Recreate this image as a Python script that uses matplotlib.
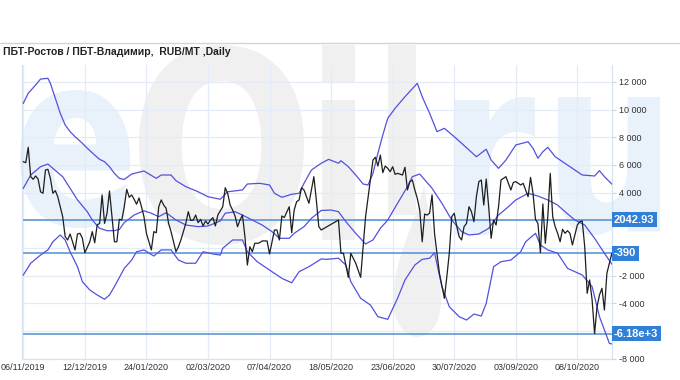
import matplotlib.pyplot as plt
from matplotlib.ticker import FuncFormatter
from matplotlib.textpath import TextPath
from matplotlib.font_manager import FontProperties
from matplotlib.patches import PathPatch
from matplotlib.path import Path
from matplotlib.transforms import Affine2D, blended_transform_factory
from matplotlib.lines import Line2D

plt.rcParams['axes.unicode_minus'] = False
plt.rcParams['font.family'] = ['Liberation Sans', 'DejaVu Sans']

# spread ПБТ-Ростов / ПБТ-Владимир, trading-day index
spread_day = [0, 1, 2, 3, 4, 5, 6, 7, 8, 9, 10, 11, 12, 13, 14, 16, 17, 18, 19, 20,
              21, 22, 23, 24, 25, 27, 28, 29, 30, 31, 32, 33, 34, 35, 36, 37, 38, 39, 40, 41,
              42, 43, 44, 45, 46, 47, 48, 49, 50, 52, 53, 54, 55, 56, 57, 58, 59, 60, 62, 63,
              64, 66, 67, 68, 69, 70, 71, 72, 73, 74, 75, 76, 77, 78, 79, 81, 82, 83, 84, 85,
              86, 87, 88, 89, 90, 91, 92, 93, 94, 95, 96, 97, 99, 100, 101, 102, 103, 104, 105, 106,
              108, 109, 110, 111, 112, 113, 114, 116, 118, 119, 120, 121, 128, 129, 130, 132, 133, 135, 137, 139,
              142, 143, 144, 145, 146, 147, 148, 149, 150, 151, 152, 154, 155, 156, 157, 158, 159, 160, 161, 162,
              163, 164, 165, 166, 167, 169, 171, 172, 173, 174, 175, 176, 177, 178, 179, 180, 181, 182, 183, 184,
              185, 186, 187, 188, 189, 190, 191, 192, 193, 194, 195, 196, 197, 198, 199, 200, 201, 202, 203, 205,
              206, 207, 208, 209, 210, 211, 212, 213, 214, 215, 216, 217, 218, 219, 220, 221, 222, 223, 225, 226,
              227, 228, 229, 230, 231, 232, 233, 234, 235, 236, 237, 238, 239]
spread = [6230, 6160, 7270, 5150, 4960, 5200, 4980, 4060, 3950, 5630, 5680, 5030, 3950, 4140, 3700, 2260, 820, 580, 1010, 450,
          -140, 1010, 1060, 700, -340, 450, 1180, 380, 1660, 1780, 3830, 1780, 2510, 4120, 2260, 450, 450, 2070, 2020, 2980,
          4240, 3660, 3830, 3520, 3160, 3610, 2980, 2260, 1060, -140, 1180, 1100, 2980, 3470, 3100, 2870, 1780, 1180, -270, 90,
          580, 1780, 2620, 1990, 2020, 2380, 1830, 2070, 1590, 1950, 1730, 2020, 2190, 1590, 2380, 2980, 4350, 3950, 3100, 2740,
          2310, 1540, 2020, 2380, 820, -1230, 90, -270, 340, 340, 380, 510, 510, -430, 450, 1300, 1300, 580, 2310, 2200,
          2980, 1100, 2740, 3340, 3470, 4350, 4190, 3230, 5150, 3470, 1540, 1300, 2020, -380, -380, -2120, -380, -1100, -2120, 2260,
          6350, 6550, 5920, 6710, 5440, 5920, 5750, 5510, 5870, 5320, 5390, 5270, 5830, 4190, 4790, 4910, 4190, 3590, 2740, 450,
          2450, 2380, 2510, 3830, 1060, -1830, -3630, -2070, -380, 2260, 2510, 1590, 820, 580, 1540, 1780, 2980, 2620, 1900, 3700,
          4790, 4910, 3100, 4980, 2980, 700, 2020, 1660, 2980, 4910, 5030, 5150, 4670, 4190, 4730, 4790, 4670, 4550, 4670, 3700,
          5100, 3950, 2070, 1780, -340, 3180, 340, 2260, 5390, 2260, 1540, 1060, 450, 1350, 1060, 1250, 1060, 220, 1660, 1900,
          1950, 90, -3270, -2310, -3750, -6180, -4240, -3390, -2910, -4480, -1830, -1100, -390]

upper_day = [0, 2, 5, 7, 10, 11, 13, 15, 17, 19, 21, 24, 26, 29, 31, 33, 35, 37, 39, 41,
             44, 49, 54, 56, 60, 62, 66, 71, 75, 80, 83, 89, 91, 96, 100, 102, 105, 109, 112, 114,
             117, 121, 124, 128, 129, 132, 135, 138, 140, 142, 144, 146, 148, 151, 155, 160, 162, 165, 168, 171,
             175, 181, 184, 188, 190, 193, 196, 200, 205, 207, 209, 211, 213, 216, 222, 227, 232, 234, 236, 239]
upper = [10450, 11170, 11770, 12200, 12250, 11890, 10810, 9730, 8880, 8400, 8040, 7560, 7200, 6710, 6400, 6230, 5870, 5390, 5030, 4950,
         5340, 5560, 5030, 5270, 5270, 4860, 4430, 4060, 3700, 3520, 4060, 4190, 4620, 4670, 4550, 3950, 3660, 3880, 3950, 4670,
         5630, 6120, 6400, 6120, 6300, 5870, 5270, 4620, 4550, 5390, 6840, 8160, 9360, 10090, 10920, 11890, 10920, 9730, 8400, 8640,
         8040, 7080, 6590, 7130, 6350, 5750, 6350, 7440, 7670, 7200, 6480, 6950, 7270, 6590, 5870, 5270, 5200, 5580, 5150, 4620]

middle_day = [0, 3, 7, 10, 12, 16, 19, 22, 26, 28, 31, 34, 37, 39, 41, 45, 49, 52, 55, 58,
              62, 66, 71, 75, 80, 82, 86, 89, 93, 97, 101, 104, 108, 110, 114, 117, 121, 125, 128, 131,
              135, 139, 142, 145, 148, 152, 156, 158, 161, 166, 170, 174, 178, 181, 185, 189, 193, 197, 200, 205,
              209, 213, 217, 220, 224, 228, 232, 236, 239]
middle = [4310, 5270, 5870, 6060, 5750, 5150, 4310, 3470, 2620, 2020, 1420, 1250, 1250, 1340, 1830, 2380, 2690, 2510, 2260, 2550,
          2020, 1660, 1540, 1590, 1950, 2510, 2620, 2380, 2020, 1660, 1180, 700, 700, 1060, 1540, 2140, 2710, 2740, 2620, 1900,
          1060, 290, 580, 1420, 2020, 3230, 4430, 5150, 5340, 4310, 3230, 2020, 1180, 940, 1010, 1420, 2380, 2980, 3470, 3950,
          3750, 3470, 3100, 2620, 2020, 1660, 700, -380, -1160]

lower_day = [0, 3, 7, 10, 12, 15, 17, 19, 22, 24, 27, 30, 33, 35, 37, 39, 41, 44, 46, 49,
             53, 56, 60, 63, 66, 70, 73, 77, 80, 81, 85, 89, 91, 95, 100, 105, 109, 112, 116, 121,
             123, 128, 131, 133, 137, 141, 144, 148, 152, 155, 159, 162, 165, 167, 170, 173, 177, 180, 183, 186,
             188, 191, 194, 198, 202, 204, 208, 210, 213, 217, 221, 227, 231, 234, 236, 238, 239]
lower = [-1950, -1100, -510, -140, 450, 940, 580, -270, -1350, -2430, -3030, -3390, -3700, -3390, -2790, -2130, -1470, -870, -270, -140,
         -580, -140, -140, -870, -1100, -1100, -270, -430, -510, -20, 580, 580, -270, -990, -1590, -2190, -2510, -1710, -1350, -790,
         -820, -740, -1230, -2430, -3630, -4120, -4960, -5150, -3630, -2310, -1230, -820, -740, -340, -2790, -4240, -4960, -5200, -4770, -4910,
         -3990, -1350, -990, -870, -270, 450, 1060, 220, -140, -380, -1470, -1950, -2790, -4960, -5920, -6880, -6930]

date_labels = ['06/11/2019', '12/12/2019', '24/01/2020', '02/03/2020', '07/04/2020',
               '18/05/2020', '23/06/2020', '30/07/2020', '03/09/2020', '08/10/2020']
date_ticks = [0, 25, 50, 75, 100, 125, 150, 175, 200, 225]

levels = [2042.93, -390, -6180]
level_labels = ['2042.93', '-390', '-6.18e+3']
# axis labels hidden behind the level boxes
covered_ticks = [2000, 0, -6000]

W, H = 680, 380
fig = plt.figure(figsize=(W / 100, H / 100), dpi=100)
fig.patch.set_facecolor('white')

# watermark "eOil.ru" drawn in a background axes (pixel coordinates)
bg = fig.add_axes([0, 0, 1, 1], zorder=0)
bg.set_xlim(0, W)
bg.set_ylim(H, 0)
bg.axis('off')

wm_blue = '#e9f1fa'
wm_gray = '#f0f0f0'
fp = FontProperties(family='DejaVu Sans', weight='bold')


def glyph(ch, box, color):
    x0, y0, x1, y1 = box
    tp = TextPath((0, 0), ch, size=1, prop=fp)
    ext = tp.get_extents()
    tr = (Affine2D().translate(-ext.x0, -ext.y1)
          .scale((x1 - x0) / ext.width, -(y1 - y0) / ext.height)
          .translate(x0, y0))
    bg.add_patch(PathPatch(tr.transform_path(tp), fc=color, ec='none'))


glyph('e', (20, 90, 130, 228), wm_blue)
glyph('O', (139, 45, 304, 245), wm_gray)
glyph('i', (322, 45, 355, 240), wm_gray)
glyph('l', (388, 45, 416, 215), wm_gray)
glyph('r', (455, 97, 535, 235), wm_blue)
glyph('u', (558, 97, 660, 235), wm_blue)
drop = Path([(424, 185), (415, 225), (393, 260), (393, 300),
             (393, 322), (405, 337), (417, 337),
             (431, 337), (441, 322), (441, 300),
             (441, 262), (430, 225), (424, 185), (424, 185)],
            [Path.MOVETO] + [Path.CURVE4] * 12 + [Path.CLOSEPOLY])
bg.add_patch(PathPatch(drop, fc=wm_gray, ec='none'))

# header
fig.add_artist(Line2D([0, 1], [1 - 43 / H] * 2, color='#d4d4d4', lw=1,
                      transform=fig.transFigure))
fig.text(3 / W, 1 - 52 / H, 'ПБТ-Ростов / ПБТ-Владимир,  RUB/MT ,Daily',
         fontsize=7.5, fontweight='bold', color='#222222', va='center', ha='left')

# main chart
left, right, top, bottom = 22, 612.3, 65, 358.8
ax = fig.add_axes([left / W, 1 - bottom / H, (right - left) / W, (bottom - top) / H], zorder=1)
ax.patch.set_alpha(0)

band_color = '#5151e0'
ax.plot(upper_day, upper, color=band_color, lw=0.9, zorder=3)
ax.plot(middle_day, middle, color=band_color, lw=0.9, zorder=3)
ax.plot(lower_day, lower, color=band_color, lw=0.9, zorder=3)
ax.plot(spread_day, spread, color='#1e1e1e', lw=0.9, zorder=4)

trans = blended_transform_factory(ax.transAxes, ax.transData)
for lev, lab in zip(levels, level_labels):
    ax.axhline(lev, color='#4f8fd4', lw=1.1, zorder=2)
    ax.text(1.003, lev, lab, transform=trans, ha='left', va='center',
            color='white', fontsize=8, fontweight='bold', zorder=6,
            bbox=dict(boxstyle='square,pad=0.22', fc='#2f80d6', ec='none'))


def fmt(v, pos):
    if round(v) in covered_ticks:
        return ''
    return f'{v:,.0f}'.replace(',', ' ')


ax.set_xlim(-0.53, 239.2)
ax.set_ylim(-8000, 13213)
ax.set_xticks(date_ticks)
ax.set_xticklabels(date_labels)
ax.set_yticks(range(-8000, 12001, 2000))
ax.yaxis.set_major_formatter(FuncFormatter(fmt))
ax.yaxis.tick_right()

ax.set_axisbelow(True)
ax.grid(True, color='#e3ecf6', lw=0.9)
ax.tick_params(axis='x', length=0, pad=3, labelsize=6.5, labelcolor='#333333')
ax.tick_params(axis='y', length=3, width=0.8, color='#c5d5e6', pad=2,
               labelsize=6.5, labelcolor='#333333')
for side in ['left', 'right', 'bottom']:
    ax.spines[side].set_color('#d5e2f0')
    ax.spines[side].set_linewidth(0.9)
ax.spines['top'].set_visible(False)

plt.savefig('out.png', dpi=100, facecolor='white')
